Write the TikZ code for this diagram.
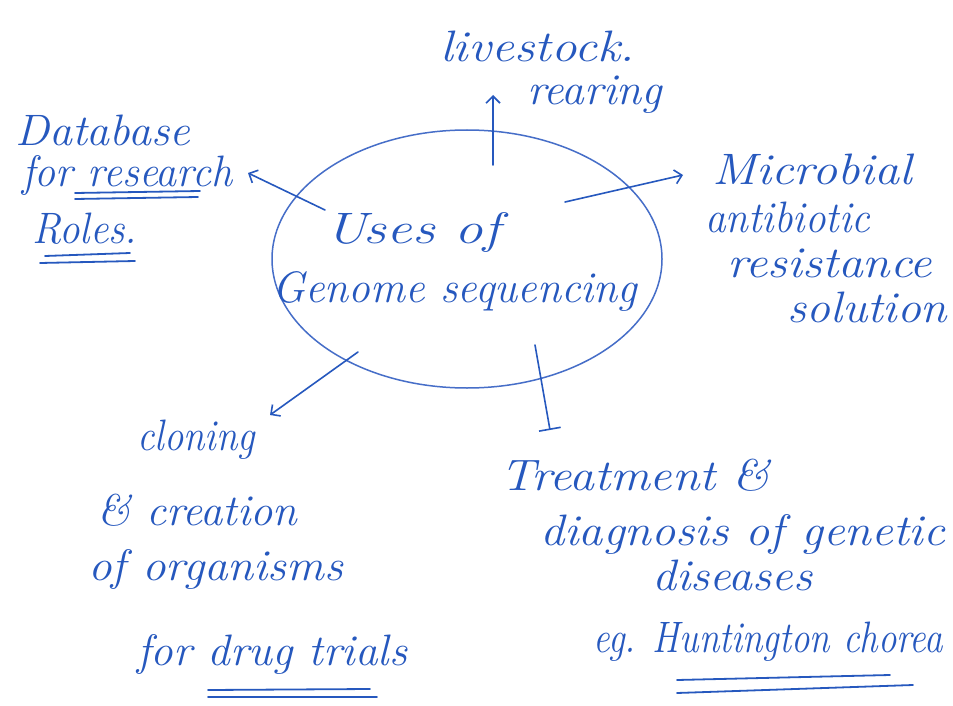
\documentclass[tikz,border=0pt]{standalone}
\usepackage{graphicx}
\usetikzlibrary{shapes.geometric,arrows.meta}
\definecolor{ink}{RGB}{38,88,190}
\definecolor{inklight}{RGB}{70,110,200}
% one handwritten line at a common size, stretched sideways to a given width
\newcommand{\hwline}[2]{\resizebox{#1pt}{\height}{\fontsize{44}{50}\selectfont\itshape #2}}
\begin{document}
\begin{tikzpicture}[x=1pt,y=-1pt,
  lbl/.style={anchor=base west,inner sep=0pt,text=ink},
  pen/.style={draw=ink,line width=1.6pt,line cap=round},
  barb/.style={pen,-{Straight Barb[length=7pt,width=14pt,line width=1.6pt]}},
  uline/.style={pen,line width=1.8pt}]
\useasboundingbox[fill=white] (0,0) rectangle (953,706);

% central ellipse
\node[ellipse,draw=inklight,line width=1.5pt,minimum width=390pt,minimum height=258pt,inner sep=0pt] (hub) at (467,259) {};
\node[lbl] (usesof) at (325,243) {\hwline{175}{Uses of}};
\node[lbl] (genome) at (272,302) {\hwline{365}{Genome sequencing}};

% database
\node[lbl] (db1) at (15,146) {\hwline{175}{Database}};
\node[lbl] (db2) at (22,186) {\hwline{210}{for research}};
\node[lbl] (db3) at (32,243) {\hwline{105}{Roles.}};

% livestock
\node[lbl] (ls1) at (440,62) {\hwline{195}{livestock.}};
\node[lbl] (ls2) at (527,105) {\hwline{135}{rearing}};

% microbial
\node[lbl] (mi1) at (712,185) {\hwline{200}{Microbial}};
\node[lbl] (mi2) at (705,232) {\hwline{165}{antibiotic}};
\node[lbl] (mi3) at (727,277) {\hwline{205}{resistance}};
\node[lbl] (mi4) at (787,322) {\hwline{160}{solution}};

% cloning
\node[lbl] (cl1) at (137,450) {\hwline{118}{cloning}};
\node[lbl] (cl2) at (97,525) {\hwline{200}{\& creation}};
\node[lbl] (cl3) at (88,580) {\hwline{255}{of organisms}};
\node[lbl] (cl4) at (137,665) {\hwline{270}{for drug trials}};

% treatment
\node[lbl] (tr1) at (500,490) {\hwline{270}{Treatment \&}};
\node[lbl] (tr2) at (540,545) {\hwline{405}{diagnosis of genetic}};
\node[lbl] (tr3) at (652,590) {\hwline{160}{diseases}};
\node[lbl] (tr4) at (593,652) {\hwline{350}{eg. Huntington chorea}};

% connector end points
\coordinate (upS) at (493,165);
\coordinate (upE) at (493,95);
\coordinate (dbS) at (325,210);
\coordinate (dbE) at (248,173);
\coordinate (miS) at (565,202);
\coordinate (miE) at (683,175);
\coordinate (clS) at (358,352);
\coordinate (clE) at (270,415);
\coordinate (trS) at (535,345);
\coordinate (trE) at (550,430);

\draw[barb] (upS) -- (upE);
\draw[barb] (dbS) -- (dbE);
\draw[barb] (miS) -- (miE);
\draw[barb] (clS) -- (clE);
\draw[pen,-{Bar[width=22pt,line width=1.6pt]}] (trS) -- (trE);

% underlines
\coordinate (u1a) at (75,193);  \coordinate (u1b) at (200,191);
\coordinate (u2a) at (75,199);  \coordinate (u2b) at (198,197);
\coordinate (u3a) at (45,256);  \coordinate (u3b) at (130,253);
\coordinate (u4a) at (40,263);  \coordinate (u4b) at (135,261);
\coordinate (u5a) at (208,690); \coordinate (u5b) at (370,689);
\coordinate (u6a) at (208,697); \coordinate (u6b) at (377,697);
\coordinate (u7a) at (677,680); \coordinate (u7b) at (890,675);
\coordinate (u8a) at (677,693); \coordinate (u8b) at (913,685);
\draw[uline] (u1a) -- (u1b);
\draw[uline] (u2a) -- (u2b);
\draw[uline] (u3a) -- (u3b);
\draw[uline] (u4a) -- (u4b);
\draw[uline] (u5a) -- (u5b);
\draw[uline] (u6a) -- (u6b);
\draw[uline] (u7a) -- (u7b);
\draw[uline] (u8a) -- (u8b);
\end{tikzpicture}
\end{document}
